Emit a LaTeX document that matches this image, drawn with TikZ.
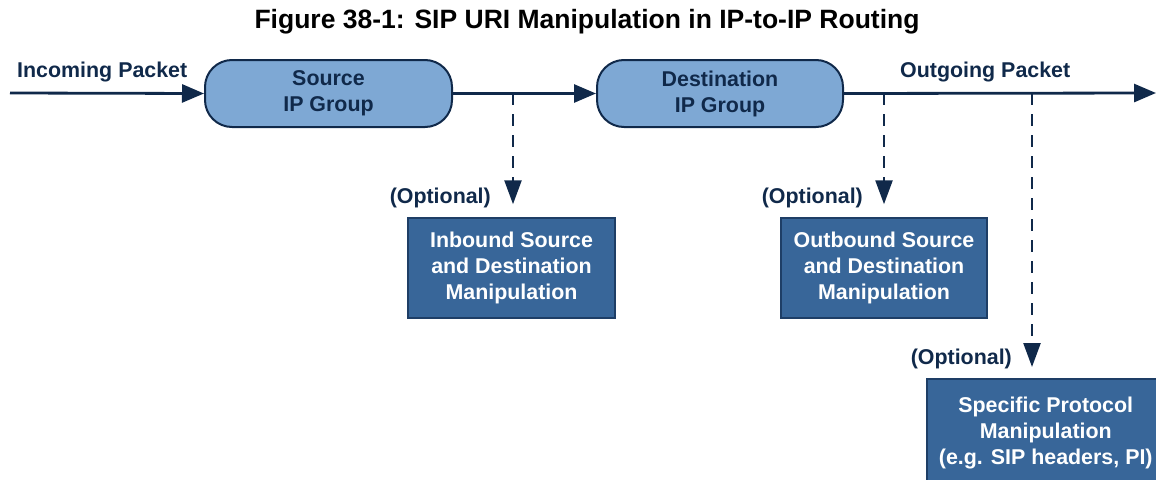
\documentclass[tikz,border=0pt]{standalone}
\usepackage{fontspec}
\setmainfont{Liberation Sans}
\usetikzlibrary{arrows.meta}
\definecolor{navy}{HTML}{10294A}
\definecolor{lightfill}{HTML}{7EA8D4}
\definecolor{darkfill}{HTML}{386699}
\definecolor{darkedge}{HTML}{1E3E66}
\begin{document}
\begin{tikzpicture}[x=1pt,y=-1pt,
  flow/.style={draw=navy,line width=2.8pt,-{Triangle[length=22pt,width=18pt]}},
  branch/.style={draw=navy,line width=2.5pt,dash pattern=on 12pt off 9pt,-{Triangle[length=24pt,width=17pt]}},
  group/.style={draw=navy,line width=2pt,fill=lightfill,rounded corners=27pt,minimum width=247pt,minimum height=67pt,inner sep=0pt,text=navy,font=\bfseries\fontsize{21.4}{26}\selectfont,align=center},
  manip/.style={draw=darkedge,line width=1.5pt,fill=darkfill,minimum width=207pt,minimum height=100pt,inner sep=0pt,text=white,font=\bfseries\fontsize{21.4}{26}\selectfont,align=center},
  lbl/.style={text=navy,font=\bfseries\fontsize{21.4}{24}\selectfont,inner sep=0pt}]
\useasboundingbox (0,0) rectangle (1156,479);
\clip (0,0) rectangle (1156,479);
\node[font=\bfseries\fontsize{26.5}{30}\selectfont,inner sep=0pt] (title) at (587,22) {Figure 38-1: SIP URI Manipulation in IP-to-IP Routing};
\coordinate (in) at (10,93);
\node[group] (src) at (328.5,93.5) {Source\\IP Group};
\node[group,minimum width=246pt] (dst) at (720,93.5) {Destination\\IP Group};
\coordinate (out) at (1156,93);
\node[manip] (inb) at (511.5,268) {Inbound Source\\and Destination\\Manipulation};
\node[manip,minimum width=206pt] (outb) at (884,268) {Outbound Source\\and Destination\\Manipulation};
\node[manip,minimum width=238pt,minimum height=108pt,anchor=north west] (spec) at (926,378) {Specific Protocol\\Manipulation\\(e.g. SIP headers, PI)};
\coordinate (b1) at (513,93);
\coordinate (b2) at (884,93);
\coordinate (b3) at (1032,93);
\draw[flow] (in) -- (src.west);
\draw[flow] (src.east) -- (dst.west);
\draw[flow] (dst.east) -- (out);
\draw[branch,shorten >=13pt] (b1) -- (b1 |- inb.north);
\draw[branch,shorten >=13pt] (b2) -- (b2 |- outb.north);
\draw[branch,shorten >=11pt] (b3) -- (b3 |- spec.north);
\node[lbl,anchor=base west] (lin) at (17,77) {Incoming Packet};
\node[lbl,anchor=base west] (lout) at (900,77) {Outgoing Packet};
\node[lbl,anchor=base east] (o1) at (491,203) {(Optional)};
\node[lbl,anchor=base east] (o2) at (863,203) {(Optional)};
\node[lbl,anchor=base east] (o3) at (1012,364) {(Optional)};
\end{tikzpicture}
\end{document}
